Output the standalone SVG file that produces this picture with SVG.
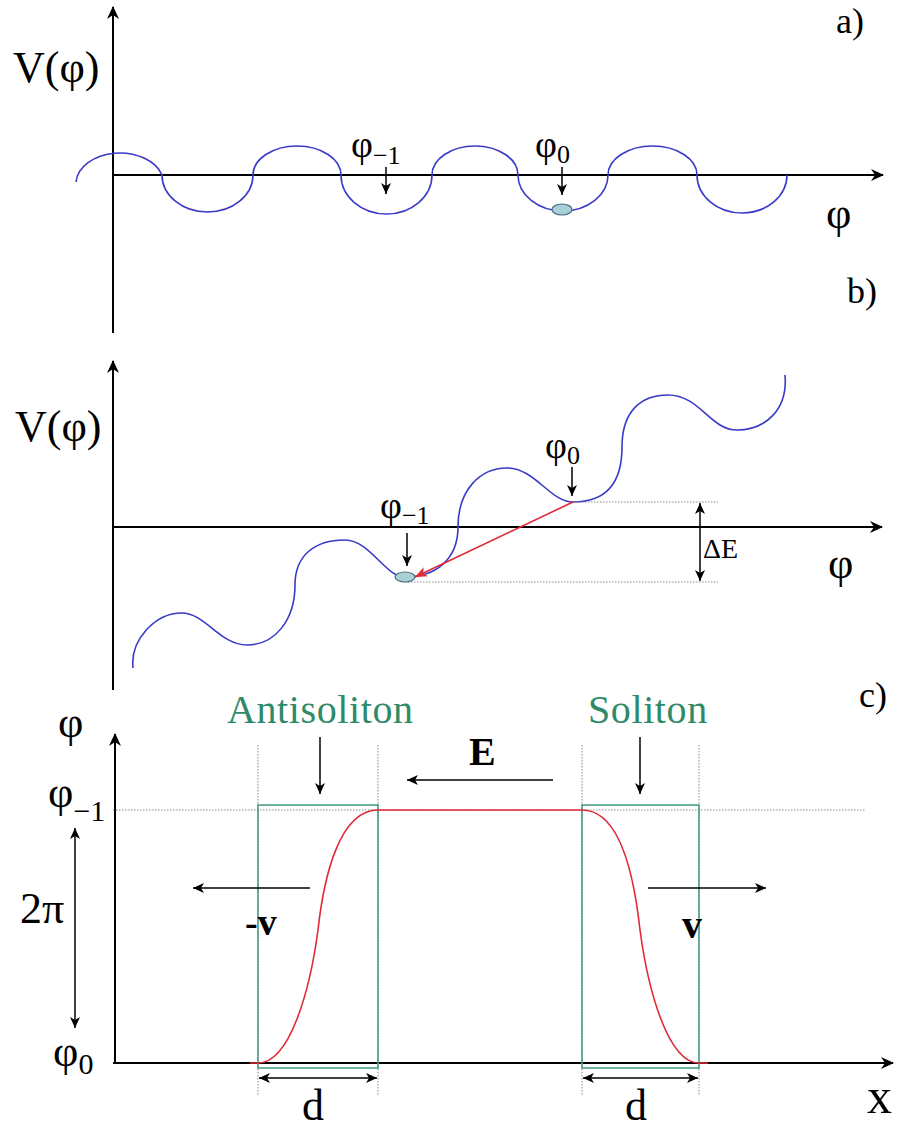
<svg xmlns="http://www.w3.org/2000/svg" width="900" height="1129" viewBox="0 0 900 1129">
<style>
text{font-family:"Liberation Serif","Times New Roman",serif;fill:#000}
.ax{stroke:#000;stroke-width:2;fill:none}
.ar{stroke:#000;stroke-width:1.5;fill:none}
.blue{stroke:#3a3ac8;stroke-width:1.6;fill:none}
.red{stroke:#e02a35;stroke-width:1.6;fill:none}
.dot{stroke:#888;stroke-width:1;stroke-dasharray:1.5 1.5;fill:none}
.teal{stroke:#3f9a82;stroke-width:1.5;fill:none}
.tt{fill:#2f8a6a}
.ball{fill:#a9d0d6;stroke:#4d6f7a;stroke-width:1.2}
</style>
<defs>
<marker id="axh" markerWidth="16" markerHeight="14" refX="13" refY="7" orient="auto" markerUnits="userSpaceOnUse">
<path d="M1,1 L14,7 L1,13 L5,7 Z" fill="#000"/>
</marker>
<marker id="ah" markerWidth="12" markerHeight="10" refX="11" refY="5" orient="auto-start-reverse" markerUnits="userSpaceOnUse">
<path d="M0,0 L11,5 L0,10 L3,5 Z" fill="#000"/>
</marker>
<marker id="rh" markerWidth="14" markerHeight="10" refX="12" refY="5" orient="auto" markerUnits="userSpaceOnUse">
<path d="M0,0 L12,5 L0,10 L3,5 Z" fill="#e02a35"/>
</marker>
</defs>

<g id="panel-a">
<line class="ax" x1="113" y1="333" x2="113" y2="7" marker-end="url(#axh)"/>
<line class="ax" x1="113" y1="175" x2="883" y2="175" marker-end="url(#axh)"/>
<path class="blue" d="M76,182 A44 31 0 0 1 162,175 A45.5 37 0 0 0 253,175 A44 29 0 0 1 341,175 A45.5 39 0 0 0 432,175 A43 29 0 0 1 518,175 A45 36 0 0 0 608,175 A44.5 29 0 0 1 697,175 A45 38 0 0 0 787,175"/>
<ellipse class="ball" cx="562" cy="209.5" rx="10" ry="5.5"/>
<line class="ar" x1="386" y1="167" x2="386" y2="194" marker-end="url(#ah)"/>
<line class="ar" x1="562" y1="167" x2="562" y2="195" marker-end="url(#ah)"/>
<text x="13" y="82" font-size="44">V(φ)</text>
<text x="836" y="33" font-size="36">a)</text>
<text x="351" y="157" font-size="38">φ<tspan font-size="26" dy="7">−1</tspan></text>
<text x="535" y="157" font-size="38">φ<tspan font-size="26" dy="6">0</tspan></text>
<text x="826" y="228" font-size="44">φ</text>
<text x="847" y="303" font-size="36">b)</text>
</g>

<g id="panel-b">
<line class="ax" x1="113" y1="690" x2="113" y2="361" marker-end="url(#axh)"/>
<line class="ax" x1="113" y1="527" x2="882" y2="527" marker-end="url(#axh)"/>
<path class="blue" d="M133,668 C130,640 155,613 182,613 C205,613 220,645 247,645 C275,645 295,620 295,585 C295,555 315,540 345,540 C370,540 385,577 405,577 C435,577 458,560 458,527 C458,490 480,468 507,468 C535,468 550,502 573,502 C605,502 622,485 622,447 C622,410 642,395 668,395 C700,395 710,430 737,430 C765,430 788,410 785,375"/>
<line class="dot" x1="573" y1="502" x2="718" y2="502"/>
<line class="dot" x1="405" y1="582" x2="718" y2="582"/>
<line class="red" x1="573" y1="502" x2="415" y2="577" marker-end="url(#rh)"/>
<ellipse class="ball" cx="405" cy="577" rx="10" ry="5"/>
<line class="ar" x1="407" y1="533" x2="407" y2="566" marker-end="url(#ah)"/>
<line class="ar" x1="572" y1="467" x2="572" y2="496" marker-end="url(#ah)"/>
<line class="ar" x1="700" y1="503" x2="700" y2="581" marker-start="url(#ah)" marker-end="url(#ah)"/>
<text x="15" y="441" font-size="44">V(φ)</text>
<text x="380" y="518" font-size="38">φ<tspan font-size="26" dy="6">−1</tspan></text>
<text x="545" y="458" font-size="38">φ<tspan font-size="26" dy="6">0</tspan></text>
<text x="703" y="558" font-size="28">ΔE</text>
<text x="828" y="578" font-size="44">φ</text>
</g>

<g id="panel-c">
<line class="ax" x1="115" y1="1063" x2="115" y2="734" marker-end="url(#axh)"/>
<line class="ax" x1="113" y1="1063" x2="893" y2="1063" marker-end="url(#axh)"/>
<line class="dot" x1="113" y1="810" x2="865" y2="810"/>
<line class="dot" x1="258" y1="745" x2="258" y2="1095"/>
<line class="dot" x1="378" y1="745" x2="378" y2="1095"/>
<line class="dot" x1="582" y1="745" x2="582" y2="1095"/>
<line class="dot" x1="699" y1="745" x2="699" y2="1095"/>
<rect class="teal" x="258" y="805" width="120" height="263"/>
<rect class="teal" x="582" y="805" width="117" height="263"/>
<path class="red" d="M250,1063 L258,1063 C290,1063 310,990 318,930 C324,875 340,810 378,810 L582,810 C620,810 634,875 640,930 C648,990 668,1063 699,1063 L708,1063"/>
<line class="ar" x1="320" y1="737" x2="320" y2="794" marker-end="url(#ah)"/>
<line class="ar" x1="640" y1="737" x2="640" y2="794" marker-end="url(#ah)"/>
<line class="ar" x1="553" y1="780" x2="407" y2="780" marker-end="url(#ah)"/>
<line class="ar" x1="310" y1="888" x2="193" y2="888" marker-end="url(#ah)"/>
<line class="ar" x1="648" y1="888" x2="766" y2="888" marker-end="url(#ah)"/>
<line class="ar" x1="75" y1="828" x2="75" y2="1028" marker-start="url(#ah)" marker-end="url(#ah)"/>
<line class="ar" x1="259" y1="1078" x2="377" y2="1078" marker-start="url(#ah)" marker-end="url(#ah)"/>
<line class="ar" x1="583" y1="1078" x2="698" y2="1078" marker-start="url(#ah)" marker-end="url(#ah)"/>
<text x="859" y="707" font-size="36">c)</text>
<text class="tt" x="227" y="723" font-size="40" letter-spacing="0.6">Antisoliton</text>
<text class="tt" x="588" y="723" font-size="40" letter-spacing="0.6">Soliton</text>
<text x="469" y="765" font-size="40" font-weight="bold">E</text>
<text x="58" y="737" font-size="44">φ</text>
<text x="48" y="807" font-size="44">φ<tspan font-size="30" dy="14">−1</tspan></text>
<text x="20" y="923" font-size="44">2π</text>
<text x="53" y="1066" font-size="44">φ<tspan font-size="30" dy="8">0</tspan></text>
<text x="245" y="935" font-size="38" font-weight="bold">-v</text>
<text x="682" y="938" font-size="40" font-weight="bold">v</text>
<text x="302" y="1120" font-size="44">d</text>
<text x="625" y="1120" font-size="44">d</text>
<text x="867" y="1113" font-size="50">x</text>
</g>
</svg>
